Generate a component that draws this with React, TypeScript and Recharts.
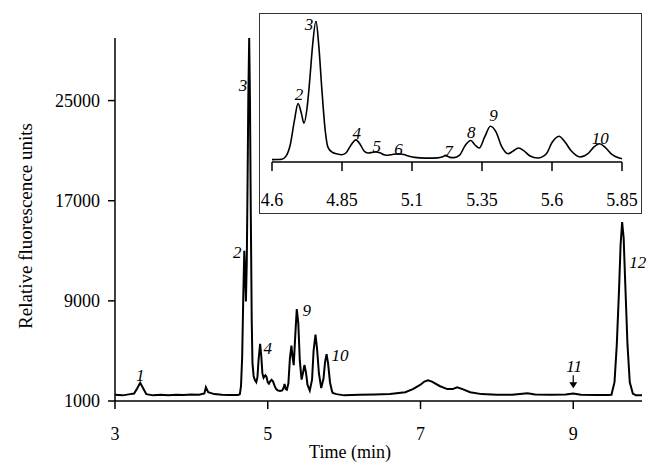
import React from "react";
import { LineChart, Line, XAxis, YAxis, ReferenceDot } from "recharts";

// retention time (min) and signal
const times = [
  3.0, 3.1, 3.2, 3.25, 3.29, 3.33, 3.37, 3.41, 3.5, 3.6, 3.7, 3.8, 3.9, 4.0, 4.1, 4.17, 4.19, 4.22, 4.3, 4.4, 4.5,
  4.6, 4.62, 4.635, 4.65, 4.665, 4.68, 4.693, 4.705, 4.714, 4.725, 4.735, 4.745, 4.757, 4.767, 4.778, 4.79, 4.8,
  4.815, 4.83, 4.85, 4.865, 4.88, 4.9, 4.915, 4.93, 4.945, 4.96, 4.97, 4.985, 5.0, 5.015, 5.03, 5.05, 5.07, 5.09,
  5.11, 5.13, 5.16, 5.19, 5.21, 5.22, 5.235, 5.25, 5.27, 5.29, 5.31, 5.325, 5.34, 5.36, 5.38, 5.4, 5.42, 5.443,
  5.46, 5.48, 5.5, 5.52, 5.55, 5.58, 5.6, 5.625, 5.645, 5.67, 5.7, 5.73, 5.75, 5.77, 5.79, 5.815, 5.84, 5.85,
  5.9, 6.0, 6.2, 6.4, 6.6, 6.8, 6.9, 7.0, 7.05, 7.1, 7.15, 7.25, 7.35, 7.42, 7.48, 7.55, 7.65, 7.8, 8.0, 8.2,
  8.4, 8.5, 8.7, 8.9, 9.0, 9.1, 9.3, 9.45, 9.5, 9.54, 9.57, 9.6, 9.62, 9.64, 9.66, 9.68, 9.71, 9.74, 9.78, 9.82, 9.9,
];
const fluorescence = [
  1500, 1450, 1550, 1600, 2000, 2450, 2000, 1550, 1450, 1500, 1450, 1500, 1480, 1520, 1500, 1600, 2100, 1700, 1550, 1500, 1480,
  1480, 1500, 1550, 2200, 4500, 9500, 13000, 11000, 8960, 12000, 18000, 25000, 30000, 25000, 16000, 7500, 4000,
  3000, 2700, 2500, 2900, 4300, 5560, 4600, 3200, 2850, 3000, 3050, 2900, 2500, 2380, 2550, 2700, 2550, 2200,
  1950, 1850, 1800, 1850, 2100, 2360, 1950, 1900, 2400, 4400, 5420, 4500, 3870, 6200, 8350, 7200, 4200, 2710,
  3200, 3870, 3300, 2300, 1830, 2700, 5000, 6310, 5200, 3200, 2040, 2800, 4100, 4750, 4000, 2500, 1800, 1650,
  1550, 1450, 1500, 1520, 1550, 1700, 1950, 2300, 2550, 2650, 2550, 2200, 1950, 1950, 2100, 1950, 1700, 1550, 1500, 1500,
  1620, 1520, 1500, 1520, 1600, 1500, 1480, 1480, 1500, 2500, 5500, 10000, 13500, 15300, 14000, 10500, 5500, 2500, 1600, 1450, 1450,
];

const mainXTicks = [3, 5, 7, 9];
const mainYTicks = [1000, 9000, 17000, 25000];
const insetXTicks = [4.6, 4.85, 5.1, 5.35, 5.6, 5.85];

// peak numbers: label text and anchor in data units
const mainTags = ["1", "2", "3", "4", "9", "10", "11", "12"];
const mainTagT = [3.33, 4.6, 4.675, 5.0, 5.51, 5.945, 9.01, 9.845];
const mainTagV = [3050, 12880, 26220, 5200, 8220, 4650, 3770, 12080];
const insetTags = ["2", "3", "4", "5", "6", "7", "8", "9", "10"];
const insetTagT = [4.696, 4.732, 4.903, 4.974, 5.052, 5.23, 5.312, 5.391, 5.772];
const insetTagV = [14890, 29380, 6920, 4270, 3650, 3250, 7130, 10600, 5900];
const arrowT = 9.0;
const arrowV = 2010;

const data = times.map((t, i) => ({ t, v: fluorescence[i] }));
const insetData = data.filter((d) => d.t >= 4.6 && d.t <= 5.85);

const SERIF = "'Liberation Serif', 'Times New Roman', serif";
const tickStyle = { fill: "#000", fontSize: 18, fontFamily: SERIF };

function tag(text: string) {
  return (p: any) => (
    <text x={p.cx} y={p.cy} textAnchor="middle" dominantBaseline="central" fontFamily={SERIF} fontStyle="italic" fontSize={17} fill="#000">{text}</text>
  );
}

function arrowShape(p: any) {
  return (
    <g>
      <line x1={p.cx} y1={p.cy - 13} x2={p.cx} y2={p.cy - 4} stroke="#000" strokeWidth={1.2} />
      <path d={`M${p.cx - 4},${p.cy - 6} L${p.cx + 4},${p.cy - 6} L${p.cx},${p.cy} Z`} fill="#000" />
    </g>
  );
}

export default function App() {
  return (
    <div style={{ position: "absolute", left: 0, top: 0, width: 655, height: 473, background: "#fff", fontFamily: SERIF }}>
      <LineChart width={655} height={473} data={data} margin={{ top: 38, right: 13, left: 55, bottom: 32 }}>
        <XAxis dataKey="t" type="number" domain={[3, 9.9]} ticks={mainXTicks} interval={0} allowDataOverflow
          height={40} stroke="#000" strokeWidth={1.5} tickSize={8} tickMargin={18} tick={tickStyle} tickLine={{ stroke: "#000" }} />
        <YAxis type="number" domain={[1000, 30000]} ticks={mainYTicks} interval={0} allowDataOverflow
          width={60} stroke="#000" strokeWidth={1.5} tickSize={7} tickMargin={8} tick={tickStyle} tickLine={{ stroke: "#000" }} />
        <Line dataKey="v" type="linear" stroke="#000" strokeWidth={2} dot={false} isAnimationActive={false} />
        {mainTags.map((s, i) => (
          <ReferenceDot key={s} x={mainTagT[i]} y={mainTagV[i]} r={0} ifOverflow="visible" shape={tag(s)} />
        ))}
        <ReferenceDot x={arrowT} y={arrowV} r={0} ifOverflow="visible" shape={arrowShape} />
      </LineChart>

      <div style={{ position: "absolute", left: 0, top: 443, width: 700, textAlign: "center", fontSize: 18, lineHeight: "18px", whiteSpace: "nowrap" }}>
        <span style={{ position: "absolute", left: 350, transform: "translateX(-50%)" }}>Time (min)</span>
      </div>
      <div style={{ position: "absolute", left: 25, top: 226, transform: "translate(-50%, -50%) rotate(-90deg)", fontSize: 19, lineHeight: "19px", whiteSpace: "nowrap" }}>
        Relative fluorescence units
      </div>

      <div style={{ position: "absolute", left: 259, top: 13, width: 383, height: 201, boxSizing: "border-box", border: "1.5px solid #333", background: "#fff" }}>
        <LineChart width={380} height={198} data={insetData} margin={{ top: 7, right: 18, left: 12, bottom: 10 }}>
          <XAxis dataKey="t" type="number" domain={[4.6, 5.85]} ticks={insetXTicks} interval={0} allowDataOverflow
            height={40} stroke="#000" strokeWidth={1.5} tickSize={9} tickMargin={22} tick={tickStyle} tickLine={{ stroke: "#000" }} />
          <YAxis type="number" domain={[1000, 30000]} hide allowDataOverflow />
          <Line dataKey="v" type="monotone" stroke="#000" strokeWidth={1.6} dot={false} isAnimationActive={false} />
          {insetTags.map((s, i) => (
            <ReferenceDot key={s} x={insetTagT[i]} y={insetTagV[i]} r={0} ifOverflow="visible" shape={tag(s)} />
          ))}
        </LineChart>
      </div>
    </div>
  );
}
